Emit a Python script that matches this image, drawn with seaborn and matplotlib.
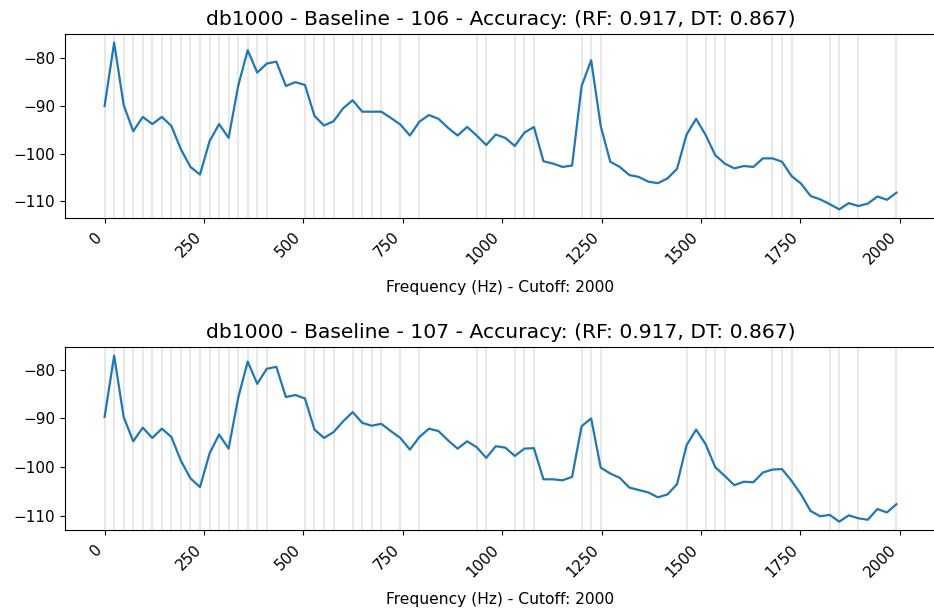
import numpy as np
import pandas as pd
import matplotlib
matplotlib.use("Agg")
import matplotlib.pyplot as plt
import seaborn as sns

# Frequency bins (Hz)
freq = np.arange(84) * 24

# Spectrum (dB) for record 106
db_106 = [-90.0, -76.7, -89.8, -95.3, -92.3, -93.8, -92.3, -94.2, -99.1, -102.8,
          -104.4, -97.4, -93.8, -96.7, -85.8, -78.3, -83.0, -81.1, -80.7, -85.8,
          -85.0, -85.6, -92.1, -94.1, -93.2, -90.5, -88.8, -91.2, -91.2, -91.2,
          -92.5, -93.9, -96.2, -93.3, -91.9, -92.7, -94.6, -96.2, -94.4, -96.2,
          -98.2, -96.0, -96.7, -98.4, -95.6, -94.4, -101.6, -102.1, -102.8, -102.5,
          -85.8, -80.4, -94.2, -101.7, -102.8, -104.5, -104.9, -105.9, -106.2, -105.2,
          -103.2, -96.0, -92.7, -96.1, -100.3, -102.1, -103.1, -102.6, -102.8, -101.0,
          -101.0, -101.7, -104.7, -106.3, -108.9, -109.6, -110.6, -111.7, -110.4, -111.0,
          -110.5, -109.0, -109.7, -108.2]

# Spectrum (dB) for record 107
db_107 = [-89.7, -77.1, -89.7, -94.7, -91.9, -94.0, -92.1, -93.8, -98.7, -102.3,
          -104.1, -97.2, -93.3, -96.2, -85.8, -78.3, -82.9, -79.8, -79.4, -85.6,
          -85.2, -85.9, -92.3, -94.0, -92.8, -90.6, -88.7, -90.9, -91.5, -91.1,
          -92.6, -94.0, -96.4, -93.8, -92.1, -92.6, -94.5, -96.2, -94.7, -95.9,
          -98.1, -95.7, -96.0, -97.7, -96.2, -96.1, -102.5, -102.5, -102.7, -102.0,
          -91.6, -90.0, -100.1, -101.3, -102.2, -104.2, -104.7, -105.2, -106.2, -105.6,
          -103.5, -95.5, -92.3, -95.3, -100.0, -101.8, -103.7, -103.0, -103.1, -101.1,
          -100.5, -100.4, -102.8, -105.6, -109.0, -110.1, -109.8, -111.2, -109.9, -110.5,
          -110.8, -108.6, -109.3, -107.6]

# Indices of selected frequency bins (highlighted with vertical lines)
selected_idx = [0, 1, 2, 3, 4, 5, 6, 7, 8, 9, 10, 11, 12, 13, 14, 15, 16, 17,
                21, 22, 23, 24, 26, 27, 28, 29, 31, 33, 39, 40, 43, 44, 45,
                50, 51, 52, 61, 63, 64, 65, 70, 71, 72, 76, 77, 79, 83]

records = ["106", "107"]
titles = [f"db1000 - Baseline - {r} - Accuracy: (RF: 0.917, DT: 0.867)" for r in records]
xlabel = "Frequency (Hz) - Cutoff: 2000"

plt.rcParams["font.family"] = ["DejaVu Sans"]
plt.rcParams["xtick.labelsize"] = 11
plt.rcParams["ytick.labelsize"] = 11

fig = plt.figure(figsize=(9.34, 6.12), dpi=100)
ax1 = fig.add_axes([0.0696, 0.6443, 0.9326, 0.2997])
ax2 = fig.add_axes([0.0696, 0.1340, 0.9326, 0.2985])

for ax, vals, title in zip([ax1, ax2], [db_106, db_107], titles):
    df = pd.DataFrame({"freq": freq, "db": vals})
    for i in selected_idx:
        ax.axvline(freq[i], color="gray", alpha=0.2, lw=1.3, zorder=0)
    sns.lineplot(data=df, x="freq", y="db", ax=ax, color="#1f77b4", lw=1.6)
    ax.set_title(title, fontsize=14.6, pad=7)
    ax.set_xlabel(xlabel, fontsize=11.2, labelpad=9)
    ax.set_ylabel("")
    ax.set_xticks([0, 250, 500, 750, 1000, 1250, 1500, 1750, 2000])
    ax.set_yticks([-80, -90, -100, -110])
    ax.tick_params(axis="x", pad=5)
    for lab in ax.get_xticklabels():
        lab.set_rotation(45)
        lab.set_ha("right")

fig.savefig("out.png", dpi=100)
